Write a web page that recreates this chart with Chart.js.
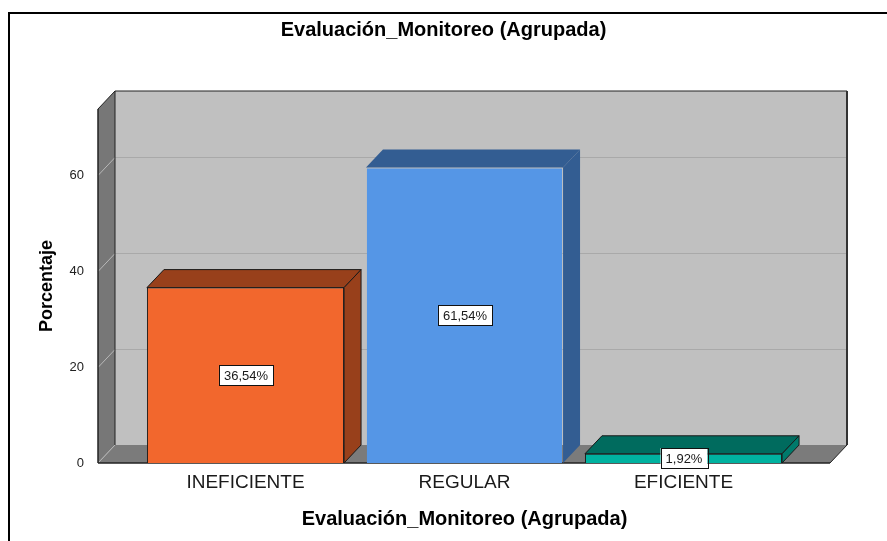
<!DOCTYPE html>
<html>
<head>
<meta charset="utf-8">
<script src="https://cdn.jsdelivr.net/npm/chart.js@4.4.1/dist/chart.umd.min.js"></script>
<style>
  body { margin: 0; background: #fff; }
</style>
</head>
<body>
<canvas id="myChart" width="887" height="541"></canvas>
<script>
// data
var categories = ['INEFICIENTE', 'REGULAR', 'EFICIENTE'];
var percentages = [36.54, 61.54, 1.92];
var yTicks = [0, 20, 40, 60];

var chartTitle = 'Evaluación_Monitoreo (Agrupada)';
var xTitle = 'Evaluación_Monitoreo (Agrupada)';
var yTitle = 'Porcentaje';

var frontColors = ['#f2672d', '#5596e6', '#00b2a0'];
var topColors = ['#98401b', '#335d92', '#006b5e'];
var sideColors = ['#98401b', '#335d92', '#007a6b'];
var edgeColors = ['#1a1a1a', 'rgba(0,0,0,0)', '#1a1a1a'];

var FONT = "'Liberation Sans', Arial, sans-serif";
var DX = 17, DY = -18;          // depth of the 3d effect
var WALL_L = 38, WALL_R = 37;   // walls reach a bit past the bar area

function poly(ctx, pts, fill, stroke, lw) {
    ctx.beginPath();
    ctx.moveTo(pts[0][0], pts[0][1]);
    for (var i = 1; i < pts.length; i++) ctx.lineTo(pts[i][0], pts[i][1]);
    ctx.closePath();
    if (fill) { ctx.fillStyle = fill; ctx.fill(); }
    if (stroke) { ctx.strokeStyle = stroke; ctx.lineWidth = lw || 1; ctx.stroke(); }
}

function line(ctx, x1, y1, x2, y2, color, lw) {
    ctx.beginPath();
    ctx.moveTo(x1, y1);
    ctx.lineTo(x2, y2);
    ctx.strokeStyle = color;
    ctx.lineWidth = lw || 1;
    ctx.stroke();
}

var framePlugin = {
    id: 'frame',
    beforeDraw: function (chart) {
        var ctx = chart.ctx;
        ctx.save();
        ctx.fillStyle = '#fff';
        ctx.fillRect(0, 0, chart.width, chart.height);
        ctx.strokeStyle = '#000';
        ctx.lineWidth = 2;
        ctx.strokeRect(9, 13, chart.width + 20, chart.height + 20);
        ctx.restore();
    }
};

var boxPlugin = {
    id: 'box3d',
    beforeDatasetsDraw: function (chart) {
        var ctx = chart.ctx;
        var a = chart.chartArea;
        var y = chart.scales.y;
        var x0 = a.left - WALL_L, x1 = a.right + WALL_R;
        var top = a.top, base = y.getPixelForValue(0);

        ctx.save();
        // back wall
        ctx.fillStyle = '#c0c0c0';
        ctx.fillRect(x0 + DX, top + DY, x1 - x0, base - top);
        // left wall
        poly(ctx, [[x0, top], [x0 + DX, top + DY], [x0 + DX, base + DY], [x0, base]], '#777777');

        // grid lines on the walls
        yTicks.forEach(function (v) {
            if (v === 0) return;
            var py = Math.round(y.getPixelForValue(v)) + 0.5;
            line(ctx, x0 + DX, py + DY, x1 + DX, py + DY, '#a9a9a9', 1);
            line(ctx, x0, py, x0 + DX, py + DY, '#b8b8b8', 1);
        });

        // floor
        poly(ctx, [[x0, base], [x1, base], [x1 + DX, base + DY], [x0 + DX, base + DY]], '#7b7b7b');
        line(ctx, x0, base, x0 + DX, base + DY, '#b8b8b8', 1);

        // edges
        line(ctx, x0 + DX, top + DY, x1 + DX, top + DY, '#222', 1);
        line(ctx, x1 + DX, top + DY, x1 + DX, base + DY, '#333', 2);
        line(ctx, x0 + DX, top + DY, x0 + DX, base + DY, '#222', 1);
        line(ctx, x0, top, x0 + DX, top + DY, '#222', 1);
        line(ctx, x0, top, x0, base, '#222', 1.5);
        line(ctx, x0, base, x1, base, '#222', 1.5);
        line(ctx, x1, base, x1 + DX, base + DY, '#222', 1);

        // top and side faces of the bars
        var bars = chart.getDatasetMeta(0).data;
        bars.forEach(function (bar, i) {
            var l = bar.x - bar.width / 2, r = bar.x + bar.width / 2;
            var t = bar.y, b = bar.base;
            poly(ctx, [[l, t], [l + DX, t + DY], [r + DX, t + DY], [r, t]], topColors[i], edgeColors[i], 1);
            poly(ctx, [[r, t], [r + DX, t + DY], [r + DX, b + DY], [r, b]], sideColors[i], edgeColors[i], 1);
        });
        ctx.restore();
    },
    afterDatasetsDraw: function (chart) {
        var ctx = chart.ctx;
        var bars = chart.getDatasetMeta(0).data;
        ctx.save();
        ctx.font = '13px ' + FONT;
        ctx.textAlign = 'center';
        ctx.textBaseline = 'middle';
        bars.forEach(function (bar, i) {
            var text = percentages[i].toFixed(2).replace('.', ',') + '%';
            var w = ctx.measureText(text).width + 10;
            var h = 20;
            var cx = Math.round(bar.x), cy = Math.round((bar.y + bar.base) / 2);
            ctx.fillStyle = '#fff';
            ctx.fillRect(cx - w / 2, cy - h / 2, w, h);
            ctx.strokeStyle = '#111';
            ctx.lineWidth = 1;
            ctx.strokeRect(Math.round(cx - w / 2) + 0.5, cy - h / 2 + 0.5, Math.round(w), h);
            ctx.fillStyle = '#1a1a1a';
            ctx.fillText(text, cx, cy + 1);
        });
        ctx.restore();
    }
};

var ctx = document.getElementById('myChart').getContext('2d');
new Chart(ctx, {
    type: 'bar',
    data: {
        labels: categories,
        datasets: [{
            data: percentages,
            backgroundColor: frontColors,
            borderColor: edgeColors,
            borderWidth: 1,
            categoryPercentage: 1,
            barPercentage: 0.9
        }]
    },
    options: {
        responsive: false,
        animation: false,
        devicePixelRatio: 1,
        layout: { padding: 0 },
        scales: {
            x: {
                offset: true,
                grid: { display: false },
                border: { display: false },
                ticks: { color: '#1a1a1a', padding: 0, font: { family: FONT, size: 19 } },
                title: {
                    display: true,
                    text: xTitle,
                    color: '#000',
                    font: { family: FONT, size: 20, weight: 'bold' },
                    padding: { top: 0, bottom: 10 }
                },
                afterFit: function (s) { s.height = 78; }
            },
            y: {
                min: 0,
                max: 73.75,
                grid: { display: false },
                border: { display: false },
                ticks: {
                    stepSize: 20,
                    padding: 44,
                    color: '#222',
                    font: { family: FONT, size: 13 },
                    callback: function (v) { return yTicks.indexOf(v) >= 0 ? v : null; }
                },
                title: {
                    display: true,
                    text: yTitle,
                    color: '#000',
                    font: { family: FONT, size: 18, weight: 'bold' },
                    padding: { top: 36, bottom: 0 }
                },
                afterFit: function (s) { s.width = 136; }
            },
            // empty axis on the right so the title stays centred on the page
            pad: {
                type: 'linear',
                position: 'right',
                grid: { display: false },
                border: { display: false },
                ticks: { display: false },
                afterFit: function (s) { s.width = 94; }
            }
        },
        plugins: {
            legend: { display: false },
            tooltip: { enabled: false },
            title: {
                display: true,
                text: chartTitle,
                color: '#000',
                font: { family: FONT, size: 20, weight: 'bold' },
                padding: { top: 18, bottom: 67 }
            }
        }
    },
    plugins: [framePlugin, boxPlugin]
});
</script>
</body>
</html>
